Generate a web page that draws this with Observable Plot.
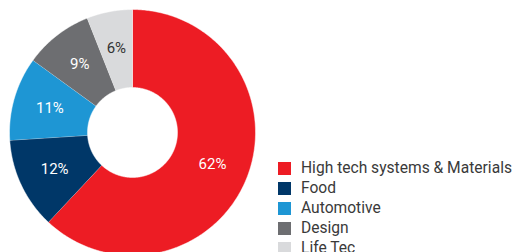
<!DOCTYPE html>
<html><head><meta charset="utf-8">
<script src="https://cdn.jsdelivr.net/npm/d3@7"></script>
<script src="https://cdn.jsdelivr.net/npm/@observablehq/plot@0.6"></script>
<style>
body{margin:0;background:#fff;}
#wrap{position:relative;width:518px;height:252px;overflow:hidden;font-family:Roboto,sans-serif}
#legend{position:absolute;left:278px;top:159px;width:240px}
.lg-swatches{font-family:Roboto,sans-serif;font-size:15.6px;color:#3a3a3a;line-height:19px;margin:0}
.lg-swatch > svg{margin-right:10px}
</style>
</head><body><div id="wrap"><div id="chart"></div><div id="legend"></div></div>
<script>
const categories = ["High tech systems & Materials", "Food", "Automotive", "Design", "Life Tec"];
const shares = [62, 12, 11, 9, 6];
const colors = ["#ed1c24", "#003768", "#1e96d4", "#6d6e71", "#d9dadc"];
const darkLabel = [false, false, false, false, true];

const arcs = d3.pie().sort(null).value(d => d.value)(
  categories.map((c, i) => ({name: c, value: shares[i], dark: darkLabel[i]}))
);
const inner = 45 / 123, outer = 1, labelR = 86 / 123;
const pts = [];
for (const a of arcs) {
  const n = Math.max(2, Math.ceil((a.endAngle - a.startAngle) / 0.01));
  for (let k = 0; k <= n; k++) {
    const t = a.startAngle + (a.endAngle - a.startAngle) * k / n;
    pts.push({name: a.data.name, x: outer * Math.sin(t), y: outer * Math.cos(t)});
  }
  for (let k = n; k >= 0; k--) {
    const t = a.startAngle + (a.endAngle - a.startAngle) * k / n;
    pts.push({name: a.data.name, x: inner * Math.sin(t), y: inner * Math.cos(t)});
  }
}
const labels = arcs.map(a => {
  const t = (a.startAngle + a.endAngle) / 2;
  return {x: labelR * Math.sin(t), y: labelR * Math.cos(t), text: a.data.value + "%", dark: a.data.dark};
});

const chart = Plot.plot({
  width: 518, height: 252, margin: 0,
  style: {background: "#fff"},
  x: {domain: [-1, 1], range: [9, 255], axis: null},
  y: {domain: [-1, 1], range: [255, 9], axis: null},
  color: {domain: categories, range: colors},
  marks: [
    Plot.line(pts, {x: "x", y: "y", z: "name", fill: "name", stroke: "#fff", strokeWidth: 0.5, curve: "linear"}),
    Plot.text(labels, {filter: d => !d.dark, x: "x", y: "y", text: "text", fill: "#fff", fontSize: 15, fontFamily: "Roboto"}),
    Plot.text(labels, {filter: d => d.dark, x: "x", y: "y", text: "text", fill: "#333", fontSize: 15, fontFamily: "Roboto"})
  ]
});
document.getElementById("chart").appendChild(chart);

const legend = Plot.legend({
  color: {domain: categories, range: colors},
  legend: "swatches", columns: 1, swatchSize: 13, className: "lg"
});
document.getElementById("legend").appendChild(legend);
</script>
</body></html>
